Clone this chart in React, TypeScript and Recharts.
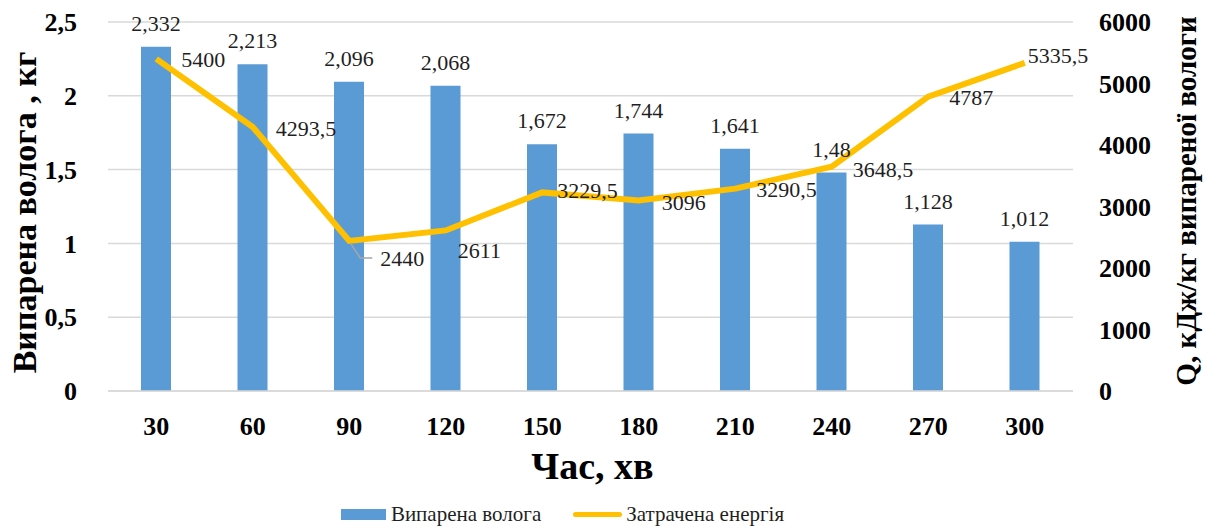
import React from 'react';
import {
  ComposedChart,
  Bar,
  Line,
  XAxis,
  YAxis,
  CartesianGrid,
  Legend,
  LabelList
} from 'recharts';

document.body.style.margin = '0';

const minutes = [30, 60, 90, 120, 150, 180, 210, 240, 270, 300];
const moisture = [2.332, 2.213, 2.096, 2.068, 1.672, 1.744, 1.641, 1.48, 1.128, 1.012];
const energy = [5400, 4293.5, 2440, 2611, 3229.5, 3096, 3290.5, 3648.5, 4787, 5335.5];
const leftTicks = [0, 0.5, 1, 1.5, 2, 2.5];
const rightTicks = [0, 1000, 2000, 3000, 4000, 5000, 6000];

// label nudges for the energy line, relative to each point
const energyLabelShift: [number, number][] = [
  [25, 1], [23, 2], [31, 18], [12, 20], [15, -2],
  [23, 2], [21, 1], [21, 3], [21, 1], [3, -7]
];

const data = minutes.map((m, i) => ({ time: m, moisture: moisture[i], energy: energy[i] }));

const FONT = 'Liberation Serif';
const BLUE = '#5B9BD5';
const GOLD = '#FFC000';
const GRID = '#d9d9d9';
const INK = '#1f1f1f';

const comma = (v: number | string) => String(v).replace('.', ',');

const EnergyLabel = (props: any) => {
  const { x, y, index, value } = props;
  const [dx, dy] = energyLabelShift[index] || [20, 0];
  return (
    <g>
      {index === 2 && (
        <polyline
          points={`${x + 1},${y + 2} ${x + 11},${y + dy - 1} ${x + 23},${y + dy - 1}`}
          fill="none"
          stroke="#a6a6a6"
          strokeWidth={1.5}
        />
      )}
      <text x={x + dx} y={y + dy} dominantBaseline="central" style={{ fontFamily: FONT, fontSize: 22 }} fill={INK}>
        {comma(value)}
      </text>
    </g>
  );
};

const LeftTitle = (props: any) => {
  const { viewBox } = props;
  const cx = 24;
  const cy = viewBox.y + viewBox.height / 2 + 6;
  return (
    <text x={cx} y={cy} transform={`rotate(-90, ${cx}, ${cy})`} textAnchor="middle" dominantBaseline="central"
      style={{ fontFamily: FONT, fontWeight: 'bold', fontSize: 34 }} fill="#000">
      Випарена волога , кг
    </text>
  );
};

const RightTitle = () => {
  const cx = 1186;
  const cy = 201;
  return (
    <text x={cx} y={cy} transform={`rotate(-90, ${cx}, ${cy})`} textAnchor="middle" dominantBaseline="central"
      style={{ fontFamily: FONT, fontWeight: 'bold', fontSize: 29 }} fill="#000">
      Q, кДж/кг випареної вологи
    </text>
  );
};

const BottomTitle = (props: any) => {
  const { viewBox } = props;
  return (
    <text x={viewBox.x + viewBox.width / 2 + 2} y={466} textAnchor="middle" dominantBaseline="central"
      style={{ fontFamily: FONT, fontWeight: 'bold', fontSize: 38 }} fill="#000">
      Час, хв
    </text>
  );
};

const ChartLegend = () => (
  <div style={{ height: 30, display: 'flex', justifyContent: 'center', alignItems: 'center', fontFamily: FONT, fontSize: 21, color: INK, paddingRight: 82 }}>
    <span style={{ display: 'inline-block', width: 45, height: 11, background: BLUE, marginRight: 5 }} />
    <span style={{ marginRight: 32 }}>Випарена волога</span>
    <span style={{ display: 'inline-block', width: 49, height: 5, background: GOLD, borderRadius: 3, marginRight: 4 }} />
    <span>Затрачена енергія</span>
  </div>
);

const tickStyle = { fontFamily: FONT, fontWeight: 'bold', fontSize: 26, fill: '#000' };

export default function App() {
  return (
    <div style={{ width: 1207, height: 529, background: '#fff', fontFamily: FONT }}>
      <ComposedChart width={1207} height={529} data={data} margin={{ top: 22, right: 0, left: 0, bottom: 0 }} barSize={30}>
        <CartesianGrid yAxisId="left" vertical={false} stroke={GRID} strokeWidth={1.5} />
        <XAxis
          dataKey="time"
          height={108}
          tickLine={false}
          axisLine={{ stroke: GRID, strokeWidth: 1.5 }}
          tickMargin={20}
          tick={tickStyle}
          label={<BottomTitle />}
        />
        <YAxis
          yAxisId="left"
          width={108}
          domain={[0, 2.5]}
          ticks={leftTicks}
          tickFormatter={comma}
          tickLine={false}
          axisLine={false}
          tickMargin={25}
          tick={tickStyle}
          label={<LeftTitle />}
        />
        <YAxis
          yAxisId="right"
          orientation="right"
          width={134}
          domain={[0, 6000]}
          ticks={rightTicks}
          tickLine={false}
          axisLine={false}
          tickMargin={20}
          tick={{ ...tickStyle, textAnchor: 'start' }}
          label={<RightTitle />}
        />
        <Legend verticalAlign="bottom" content={<ChartLegend />} />
        <Bar yAxisId="left" dataKey="moisture" name="Випарена волога" fill={BLUE} isAnimationActive={false}>
          <LabelList dataKey="moisture" position="top" offset={16} formatter={comma}
            style={{ fontFamily: FONT, fontSize: 22, fill: INK }} />
        </Bar>
        <Line yAxisId="right" dataKey="energy" name="Затрачена енергія" type="linear" stroke={GOLD} strokeWidth={6}
          dot={false} isAnimationActive={false}>
          <LabelList dataKey="energy" content={<EnergyLabel />} />
        </Line>
      </ComposedChart>
    </div>
  );
}
